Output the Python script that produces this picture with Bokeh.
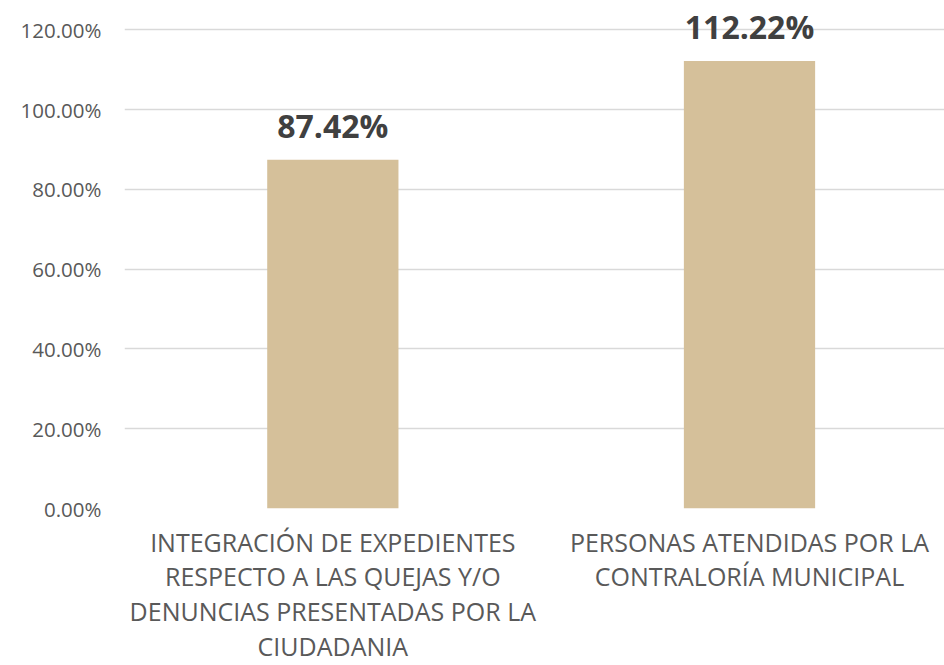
from bokeh.plotting import figure
from bokeh.models import ColumnDataSource, Range1d, FixedTicker
from bokeh.core.properties import value
from bokeh.embed import file_html
from bokeh.resources import INLINE

categories = [
    "INTEGRACIÓN DE EXPEDIENTES\nRESPECTO A LAS QUEJAS Y/O\nDENUNCIAS PRESENTADAS POR LA\nCIUDADANIA",
    "PERSONAS ATENDIDAS POR LA\nCONTRALORÍA MUNICIPAL",
]
values = [87.42, 112.22]
labels = ["87.42%", "112.22%"]
y_ticks = [0, 20, 40, 60, 80, 100, 120]

xs = [i + 0.5 for i in range(len(categories))]
src = ColumnDataSource(dict(x=xs, top=values, label=labels))

p = figure(width=944, height=665, output_backend="svg", toolbar_location=None,
           x_range=Range1d(0, 1.968), y_range=Range1d(0, 127.375),
           min_border_left=124, min_border_right=0, min_border_top=0, min_border_bottom=140)
p.outline_line_color = None
p.background_fill_color = "white"
p.border_fill_color = "white"

p.vbar(x="x", top="top", width=0.315, bottom=0, source=src,
       fill_color="#d5c09a", line_color=None)
p.text(x="x", y="top", text="label", source=src, text_align="center",
       text_baseline="alphabetic", y_offset=-34, text_font=value("Open Sans"),
       text_font_style="bold", text_font_size="32px", text_color="#404040")

p.yaxis.ticker = FixedTicker(ticks=y_ticks)
p.yaxis.major_label_overrides = {t: f"{t:.2f}%" for t in y_ticks}
p.yaxis.axis_line_color = None
p.yaxis.major_tick_line_color = None
p.yaxis.minor_tick_line_color = None
p.yaxis.major_tick_out = 0
p.yaxis.major_tick_in = 0
p.yaxis.minor_tick_out = 0
p.yaxis.major_label_text_font = "Open Sans"
p.yaxis.major_label_text_font_size = "20.5px"
p.yaxis.major_label_text_color = "#595959"
p.yaxis.major_label_standoff = 23

p.xaxis.ticker = FixedTicker(ticks=xs)
p.xaxis.major_label_overrides = {x: c for x, c in zip(xs, categories)}
p.xaxis.axis_line_color = None
p.xaxis.major_tick_line_color = None
p.xaxis.minor_tick_line_color = None
p.xaxis.major_tick_out = 0
p.xaxis.major_tick_in = 0
p.xaxis.minor_tick_out = 0
p.xaxis.major_label_text_font = "Open Sans"
p.xaxis.major_label_text_font_size = "25px"
p.xaxis.major_label_text_color = "#595959"
p.xaxis.major_label_text_line_height = 1.02
p.xaxis.major_label_standoff = 16

p.xgrid.grid_line_color = None
p.ygrid.ticker = FixedTicker(ticks=y_ticks)
p.ygrid.grid_line_color = "#d9d9d9"
p.ygrid.grid_line_width = 1.5

open("out.html", "w").write(file_html(p, INLINE))
